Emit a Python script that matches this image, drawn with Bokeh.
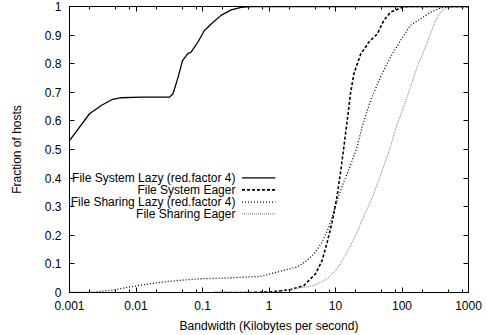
from bokeh.plotting import figure
from bokeh.models import (LogAxis, LinearAxis, FixedTicker, Label, Arrow,
                          CustomJSTickFormatter, Range1d)
from bokeh.embed import file_html
from bokeh.resources import INLINE

# ---------------- data ----------------
fs_lazy_x = [0.001, 0.002, 0.003, 0.0043, 0.006, 0.012, 0.032, 0.036, 0.043,
             0.05, 0.06, 0.067, 0.085, 0.107, 0.135, 0.19, 0.27, 0.38, 0.54, 1000]
fs_lazy_y = [0.531, 0.625, 0.654, 0.674, 0.681, 0.683, 0.683, 0.695, 0.753,
             0.811, 0.835, 0.840, 0.875, 0.916, 0.939, 0.969, 0.988, 0.997, 1.0, 1.0]

fs_eager_x = [0.15, 0.52, 1.05, 2.1, 3.33, 5.0, 6.3, 7.5, 8.9, 10.6, 11.9, 13.3,
              15, 16.8, 18.9, 23.8, 31.6, 42.4, 53.2, 67.1, 95, 120, 1000]
fs_eager_y = [0, 0, 0.002, 0.01, 0.024, 0.065, 0.112, 0.176, 0.246, 0.339, 0.42,
              0.505, 0.601, 0.695, 0.765, 0.832, 0.875, 0.904, 0.951, 0.98, 0.995,
              1.0, 1.0]

sh_lazy_x = [0.001, 0.00232, 0.00463, 0.0104, 0.0208, 0.0417, 0.0933, 0.235,
             0.745, 1.05, 1.67, 2.65, 3.75, 5.0, 6.3, 7.9, 9.4, 11.2, 13.3, 16.8,
             21.2, 25.2, 33.6, 47.5, 67.1, 95, 134, 190, 268, 380, 536, 1000]
sh_lazy_y = [0, 0.001, 0.009, 0.024, 0.034, 0.042, 0.048, 0.051, 0.056, 0.065,
             0.077, 0.089, 0.112, 0.141, 0.176, 0.228, 0.281, 0.339, 0.386, 0.444,
             0.51, 0.58, 0.671, 0.753, 0.823, 0.881, 0.934, 0.957, 0.98, 0.995,
             1.0, 1.0]

sh_eager_x = [0.15, 1.05, 2.36, 4.72, 7.5, 10.6, 15, 21.2, 28.3, 33.6, 47.5, 67.1,
              85, 106, 134, 169, 225, 268, 319, 380, 479, 594, 1000]
sh_eager_y = [0, 0, 0.013, 0.024, 0.048, 0.083, 0.141, 0.211, 0.281, 0.316, 0.409,
              0.51, 0.59, 0.648, 0.718, 0.788, 0.858, 0.904, 0.951, 0.98, 0.995,
              1.0, 1.0]

series_names = ["File System Lazy (red.factor 4)", "File System Eager",
                "File Sharing Lazy (red.factor 4)", "File Sharing Eager"]

x_ticks = [0.001, 0.01, 0.1, 1, 10, 100, 1000]
x_labels = ["0.001", "0.01", "0.1", "1", "10", "100", "1000"]
x_minor_mantissas = [2, 5, 8]
y_ticks = [0, 0.1, 0.2, 0.3, 0.4, 0.5, 0.6, 0.7, 0.8, 0.9, 1.0]
y_labels = ["0", "0.1", "0.2", "0.3", "0.4", "0.5", "0.6", "0.7", "0.8", "0.9", "1"]

x_title = "Bandwidth (Kilobytes per second)"
y_title = "Fraction of hosts"

# ---------------- figure ----------------
FONT = "Liberation Sans"
FS = "12px"

p = figure(width=487, height=335, x_axis_type="log",
           x_range=Range1d(0.001, 1000), y_range=Range1d(0, 1),
           output_backend="svg", toolbar_location=None)
p.min_border_left = 69
p.min_border_right = 19
p.min_border_top = 6
p.min_border_bottom = 43
p.xgrid.visible = False
p.ygrid.visible = False
p.outline_line_color = "black"
p.outline_line_width = 1
p.background_fill_color = "white"
p.border_fill_color = "white"

x_minor = [m * t for t in x_ticks[:-1] for m in x_minor_mantissas]
xticker = FixedTicker(ticks=x_ticks, minor_ticks=x_minor)
yticker = FixedTicker(ticks=y_ticks)

fmt_code = """
const i = tv.findIndex(t => Math.abs(t - tick) <= 1e-6 * Math.abs(t) + 1e-9);
return i >= 0 ? lb[i] : '';
"""
xfmt = CustomJSTickFormatter(args=dict(tv=x_ticks, lb=x_labels), code=fmt_code)
yfmt = CustomJSTickFormatter(args=dict(tv=y_ticks, lb=y_labels), code=fmt_code)
blank = CustomJSTickFormatter(code="return '';")


def style(ax):
    ax.axis_line_color = "black"
    ax.axis_line_width = 1
    ax.major_tick_in = 5
    ax.major_tick_out = 0
    ax.minor_tick_in = 3
    ax.minor_tick_out = 0
    ax.major_tick_line_color = "black"
    ax.minor_tick_line_color = "black"
    ax.major_label_text_font = FONT
    ax.major_label_text_font_size = FS
    ax.major_label_text_color = "black"
    ax.axis_label_text_font = FONT
    ax.axis_label_text_font_size = FS
    ax.axis_label_text_font_style = "normal"
    ax.axis_label_text_color = "black"


xa = p.xaxis[0]
xa.ticker = xticker
xa.formatter = xfmt
style(xa)
xa.major_label_standoff = 8
xa.axis_label = x_title
xa.axis_label_standoff = 6

ya = p.yaxis[0]
ya.ticker = yticker
ya.formatter = yfmt
style(ya)
ya.minor_tick_line_color = None
ya.major_label_standoff = 8
ya.axis_label = y_title
ya.axis_label_standoff = 18

top = LogAxis(ticker=xticker, formatter=blank)
style(top)
top.major_label_standoff = 0
p.add_layout(top, "above")

right = LinearAxis(ticker=yticker, formatter=blank)
style(right)
right.minor_tick_line_color = None
right.major_label_standoff = 0
p.add_layout(right, "right")

# ---------------- series ----------------
styles = [
    dict(line_color="black", line_width=1.3, line_dash="solid"),
    dict(line_color="black", line_width=1.6, line_dash="3 2"),
    dict(line_color="black", line_width=1.3, line_dash="1 2"),
    dict(line_color="#7a7a7a", line_width=1.0, line_dash="1 1"),
]
data = [(fs_lazy_x, fs_lazy_y), (fs_eager_x, fs_eager_y),
        (sh_lazy_x, sh_lazy_y), (sh_eager_x, sh_eager_y)]
for (xs, ys), st in zip(data, styles):
    p.line(xs, ys, **st)

# ---------------- legend (right-aligned text, sample to the right) ----------------
leg_text_x = 0.313
leg_line_x0, leg_line_x1 = 0.393, 1.25
leg_rows_y = [0.401, 0.359, 0.316, 0.275]
for name, st, yy in zip(series_names, styles, leg_rows_y):
    p.add_layout(Label(x=leg_text_x, y=yy, text=name, text_align="right",
                       text_baseline="middle", text_font=FONT,
                       text_font_size=FS, text_color="black"))
    p.add_layout(Arrow(start=None, end=None, x_start=leg_line_x0, y_start=yy,
                       x_end=leg_line_x1, y_end=yy, **st))

open("out.html", "w").write(file_html(p, INLINE))
